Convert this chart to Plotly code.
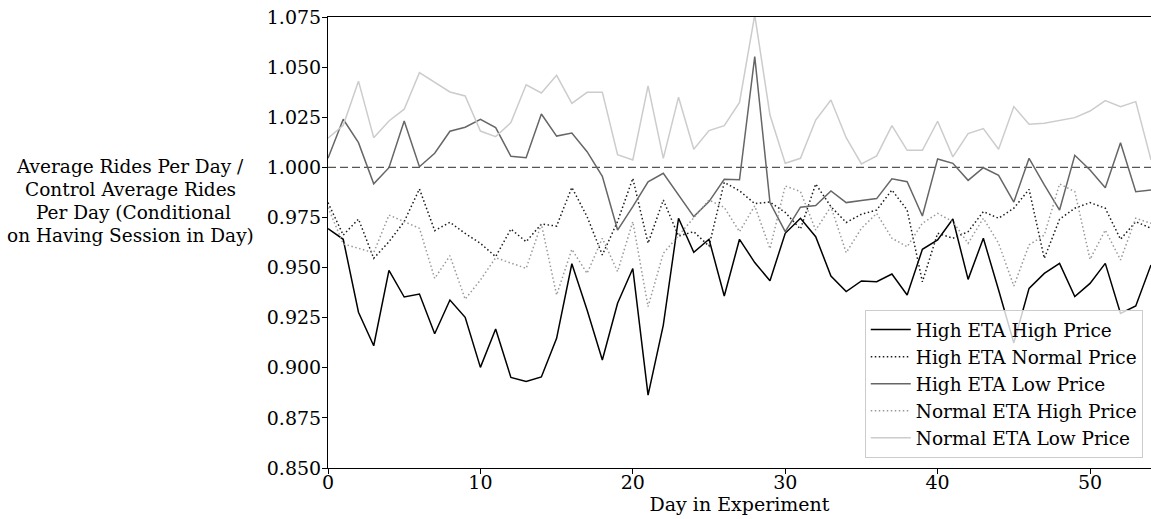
import plotly.graph_objects as go

days = list(range(55))

high_eta_high_price = [
    0.9694, 0.9641, 0.9277, 0.9110, 0.9486, 0.9353, 0.9368, 0.9170, 0.9338, 0.9252,
    0.9002, 0.9193, 0.8952, 0.8932, 0.8954, 0.9147, 0.9519, 0.9288, 0.9039, 0.9322,
    0.9495, 0.8864, 0.9213, 0.9746, 0.9576, 0.9641, 0.9358, 0.9641, 0.9525, 0.9434,
    0.9671, 0.9746, 0.9654, 0.9458, 0.9380, 0.9433, 0.9429, 0.9468, 0.9363, 0.9591,
    0.9638, 0.9742, 0.9441, 0.9646, 0.9388, 0.9124, 0.9396, 0.9471, 0.9521, 0.9355,
    0.9421, 0.9521, 0.9271, 0.9308, 0.9513,
]

high_eta_normal_price = [
    0.9824, 0.9662, 0.9742, 0.9546, 0.9629, 0.9729, 0.9892, 0.9684, 0.9726, 0.9670,
    0.9621, 0.9554, 0.9692, 0.9629, 0.9717, 0.9707, 0.9900, 0.9754, 0.9563, 0.9730,
    0.9945, 0.9621, 0.9837, 0.9657, 0.9679, 0.9607, 0.9925, 0.9883, 0.9819, 0.9827,
    0.9775, 0.9692, 0.9917, 0.9804, 0.9725, 0.9766, 0.9787, 0.9887, 0.9787, 0.9429,
    0.9671, 0.9646, 0.9679, 0.9779, 0.9746, 0.9796, 0.9890, 0.9546, 0.9741, 0.9796,
    0.9824, 0.9796, 0.9641, 0.9729, 0.9696,
]

high_eta_low_price = [
    1.0045, 1.0240, 1.0123, 0.9918, 0.9998, 1.0231, 1.0003, 1.0070, 1.0180, 1.0200,
    1.0240, 1.0198, 1.0055, 1.0048, 1.0266, 1.0156, 1.0171, 1.0078, 0.9955, 0.9687,
    0.9804, 0.9928, 0.9970, 0.9862, 0.9754, 0.9829, 0.9940, 0.9938, 1.0552, 0.9824,
    0.9679, 0.9801, 0.9809, 0.9882, 0.9824, 0.9834, 0.9844, 0.9943, 0.9928, 0.9757,
    1.0042, 1.0020, 0.9935, 0.9998, 0.9960, 0.9827, 1.0045, 0.9912, 0.9787, 1.0060,
    0.9987, 0.9898, 1.0123, 0.9878, 0.9887,
]

normal_eta_high_price = [
    0.9800, 0.9618, 0.9596, 0.9574, 0.9762, 0.9729, 0.9696, 0.9446, 0.9559, 0.9342,
    0.9438, 0.9549, 0.9521, 0.9496, 0.9717, 0.9363, 0.9591, 0.9471, 0.9646, 0.9480,
    0.9729, 0.9305, 0.9571, 0.9660, 0.9746, 0.9837, 0.9800, 0.9679, 0.9808, 0.9594,
    0.9907, 0.9879, 0.9687, 0.9804, 0.9574, 0.9696, 0.9770, 0.9646, 0.9604, 0.9721,
    0.9770, 0.9729, 0.9621, 0.9746, 0.9621, 0.9408, 0.9613, 0.9662, 0.9917, 0.9879,
    0.9541, 0.9687, 0.9538, 0.9746, 0.9721,
]

normal_eta_low_price = [
    1.0145, 1.0210, 1.0430, 1.0148, 1.0231, 1.0290, 1.0472, 1.0422, 1.0376, 1.0356,
    1.0181, 1.0153, 1.0223, 1.0412, 1.0371, 1.0459, 1.0319, 1.0374, 1.0375, 1.0063,
    1.0037, 1.0406, 1.0045, 1.0350, 1.0090, 1.0183, 1.0208, 1.0324, 1.0760, 1.0261,
    1.0020, 1.0045, 1.0236, 1.0336, 1.0148, 1.0017, 1.0057, 1.0208, 1.0085, 1.0085,
    1.0230, 1.0052, 1.0168, 1.0193, 1.0090, 1.0303, 1.0215, 1.0220, 1.0233, 1.0248,
    1.0281, 1.0333, 1.0303, 1.0328, 1.0037,
]

series_names = [
    "High ETA High Price",
    "High ETA Normal Price",
    "High ETA Low Price",
    "Normal ETA High Price",
    "Normal ETA Low Price",
]
series_values = [
    high_eta_high_price,
    high_eta_normal_price,
    high_eta_low_price,
    normal_eta_high_price,
    normal_eta_low_price,
]
series_colors = ["#000000", "#1a1a1a", "#666666", "#999999", "#cccccc"]
series_dash = ["solid", "1.5px,2.5px", "solid", "1.5px,2.5px", "solid"]

x_ticks = [0, 10, 20, 30, 40, 50]
y_ticks = [0.850, 0.875, 0.900, 0.925, 0.950, 0.975, 1.000, 1.025, 1.050, 1.075]
y_tick_labels = ["%.3f" % v for v in y_ticks]

y_title_lines = [
    "Average Rides Per Day /",
    "Control Average Rides",
    " Per Day (Conditional",
    "on Having Session in Day)",
]

FONT = "DejaVu Serif"
FS = 19
FS_TXT = 18.5

# plot area in pixels (for placing the multi-line y title)
PLOT_TOP, PLOT_BOTTOM, PLOT_LEFT, PLOT_WIDTH = 17, 468, 328, 823


def py_to_paper(py):
    return 1 - (py - PLOT_TOP) / (PLOT_BOTTOM - PLOT_TOP)


fig = go.Figure()

# reference line at 1.0
fig.add_trace(go.Scatter(
    x=[days[0], days[-1]], y=[1.0, 1.0], mode="lines",
    line=dict(color="#555555", width=1.4, dash="8px,4px"),
    showlegend=False, hoverinfo="skip",
))

for name, vals, col, dsh in zip(series_names, series_values, series_colors, series_dash):
    fig.add_trace(go.Scatter(
        x=days, y=vals, mode="lines", name=name,
        line=dict(color=col, width=1.5, dash=dsh),
    ))

annotations = []
line_y_px = [167, 189.7, 212.3, 235]
for txt, ly in zip(y_title_lines, line_y_px):
    annotations.append(dict(
        xref="paper", yref="paper",
        x=(130 - PLOT_LEFT) / PLOT_WIDTH, y=py_to_paper(ly),
        xanchor="center", yanchor="middle", showarrow=False,
        text=txt, font=dict(family=FONT, size=FS_TXT, color="black"),
    ))

fig.update_layout(
    width=1151, height=519,
    margin=dict(l=328, r=0, t=17, b=51),
    paper_bgcolor="white", plot_bgcolor="white",
    font=dict(family=FONT, size=FS, color="black"),
    showlegend=True,
    legend=dict(
        x=0.99, y=0.022, xanchor="right", yanchor="bottom",
        bgcolor="rgba(255,255,255,0.8)", bordercolor="#cccccc", borderwidth=1,
        font=dict(family=FONT, size=FS_TXT, color="black"),
        traceorder="normal", itemwidth=40,
    ),
    annotations=annotations,
)

fig.update_xaxes(
    range=[0, 54], tickvals=x_ticks, ticks="outside", ticklen=5, tickwidth=1,
    tickcolor="black", showline=True, linecolor="black", linewidth=1,
    mirror=True, showgrid=False, zeroline=False,
    ticklabelstandoff=-8,
    title=dict(text="Day in Experiment", font=dict(family=FONT, size=FS), standoff=0),
    tickfont=dict(family=FONT, size=FS),
)
fig.update_yaxes(
    range=[0.85, 1.075], tickvals=y_ticks, ticktext=y_tick_labels,
    ticks="outside", ticklen=5, tickwidth=1, tickcolor="black",
    showline=True, linecolor="black", linewidth=1, showgrid=False, zeroline=False,
    ticklabelstandoff=-3,
    tickfont=dict(family=FONT, size=FS),
)

fig.write_html("out.html")
